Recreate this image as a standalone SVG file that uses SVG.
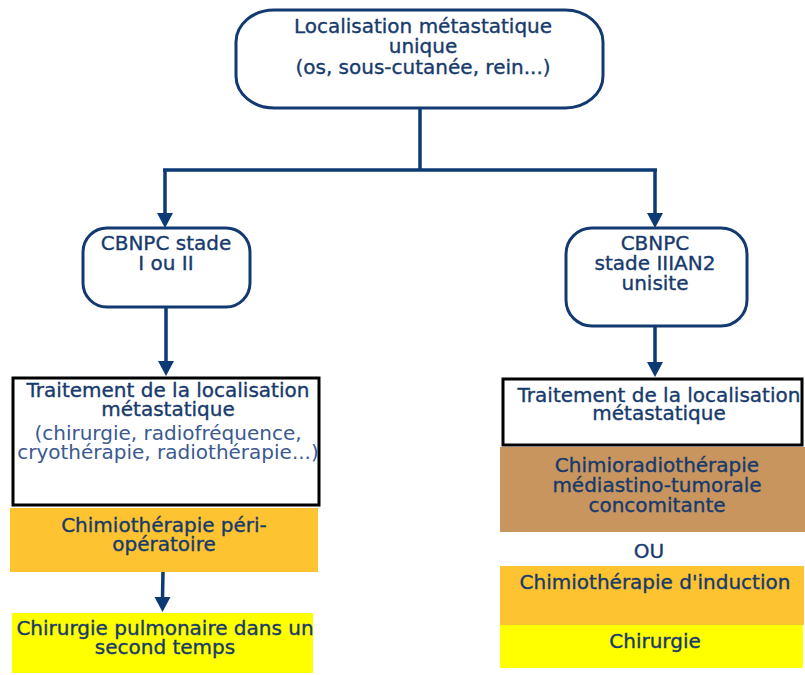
<svg xmlns="http://www.w3.org/2000/svg" width="805" height="675" viewBox="0 0 805 675">
<style>
text{font-family:"DejaVu Sans","Verdana",sans-serif;font-size:20px;fill:#173a6c;stroke:#173a6c;stroke-width:0.35;text-anchor:middle}
text.lt{fill:#3a5a90;stroke:none}
.rb{fill:#fff;stroke:#123a70;stroke-width:3}
.bx{fill:#fff;stroke:#000;stroke-width:3}
.con{fill:none;stroke:#0b3a75;stroke-width:3.5}
.ah{fill:#0b3a75}
</style>
<g id="connectors">
<path class="con" d="M420,108 V170 M163,170 H657"/>
<path class="con" d="M165,170 V214"/>
<path class="ah" d="M157,213 L173,213 L165,228 Z"/>
<path class="con" d="M655,170 V214"/>
<path class="ah" d="M647,213 L663,213 L655,228 Z"/>
<path class="con" d="M166,307 V362"/>
<path class="ah" d="M158,361 L174,361 L166,376 Z"/>
<path class="con" d="M655,326 V363"/>
<path class="ah" d="M647,362 L663,362 L655,377 Z"/>
<path class="con" d="M163,572 L162.5,598"/>
<path class="ah" d="M154.5,597 L170.5,597 L162.5,612 Z"/>
</g>
<g id="n-top">
<rect class="rb" x="236" y="10" width="367" height="98" rx="38" ry="32"/>
<text x="423" y="33">Localisation métastatique</text>
<text x="423" y="53">unique</text>
<text x="423" y="74">(os, sous-cutanée, rein...)</text>
</g>
<g id="n-left-stage">
<rect class="rb" x="83" y="228" width="167" height="79" rx="24"/>
<text x="166" y="250">CBNPC stade</text>
<text x="166" y="270">I ou II</text>
</g>
<g id="n-right-stage">
<rect class="rb" x="566" y="228" width="181" height="98" rx="26"/>
<text x="655" y="250">CBNPC</text>
<text x="655" y="270">stade IIIAN2</text>
<text x="655" y="290">unisite</text>
</g>
<g id="n-left-treat">
<rect class="bx" x="13" y="378" width="306" height="127"/>
<text x="168" y="397">Traitement de la localisation</text>
<text x="168" y="416">métastatique</text>
<text class="lt" x="168" y="440">(chirurgie, radiofréquence,</text>
<text class="lt" x="168" y="459">cryothérapie, radiothérapie...)</text>
</g>
<g id="n-left-chemo">
<rect x="10" y="508" width="308" height="64" fill="#fdc331"/>
<text x="164" y="532">Chimiothérapie péri-</text>
<text x="164" y="551">opératoire</text>
</g>
<g id="n-left-surg">
<rect x="12" y="613" width="301" height="60" fill="#ffff00"/>
<text x="165" y="635">Chirurgie pulmonaire dans un</text>
<text x="165" y="654">second temps</text>
</g>
<g id="n-right-treat">
<rect class="bx" x="503" y="379" width="299" height="66"/>
<text x="659" y="402">Traitement de la localisation</text>
<text x="659" y="420">métastatique</text>
</g>
<g id="n-right-crt">
<rect x="500" y="447" width="305" height="85" fill="#c8955f"/>
<text x="657" y="472">Chimioradiothérapie</text>
<text x="657" y="492">médiastino-tumorale</text>
<text x="657" y="512">concomitante</text>
</g>
<g id="n-ou">
<text x="649" y="558">OU</text>
</g>
<g id="n-right-chemo">
<rect x="500" y="566" width="304" height="59" fill="#fdc331"/>
<text x="655" y="589">Chimiothérapie d'induction</text>
</g>
<g id="n-right-surg">
<rect x="500" y="625" width="303" height="43" fill="#ffff00"/>
<text x="655" y="648">Chirurgie</text>
</g>
</svg>
